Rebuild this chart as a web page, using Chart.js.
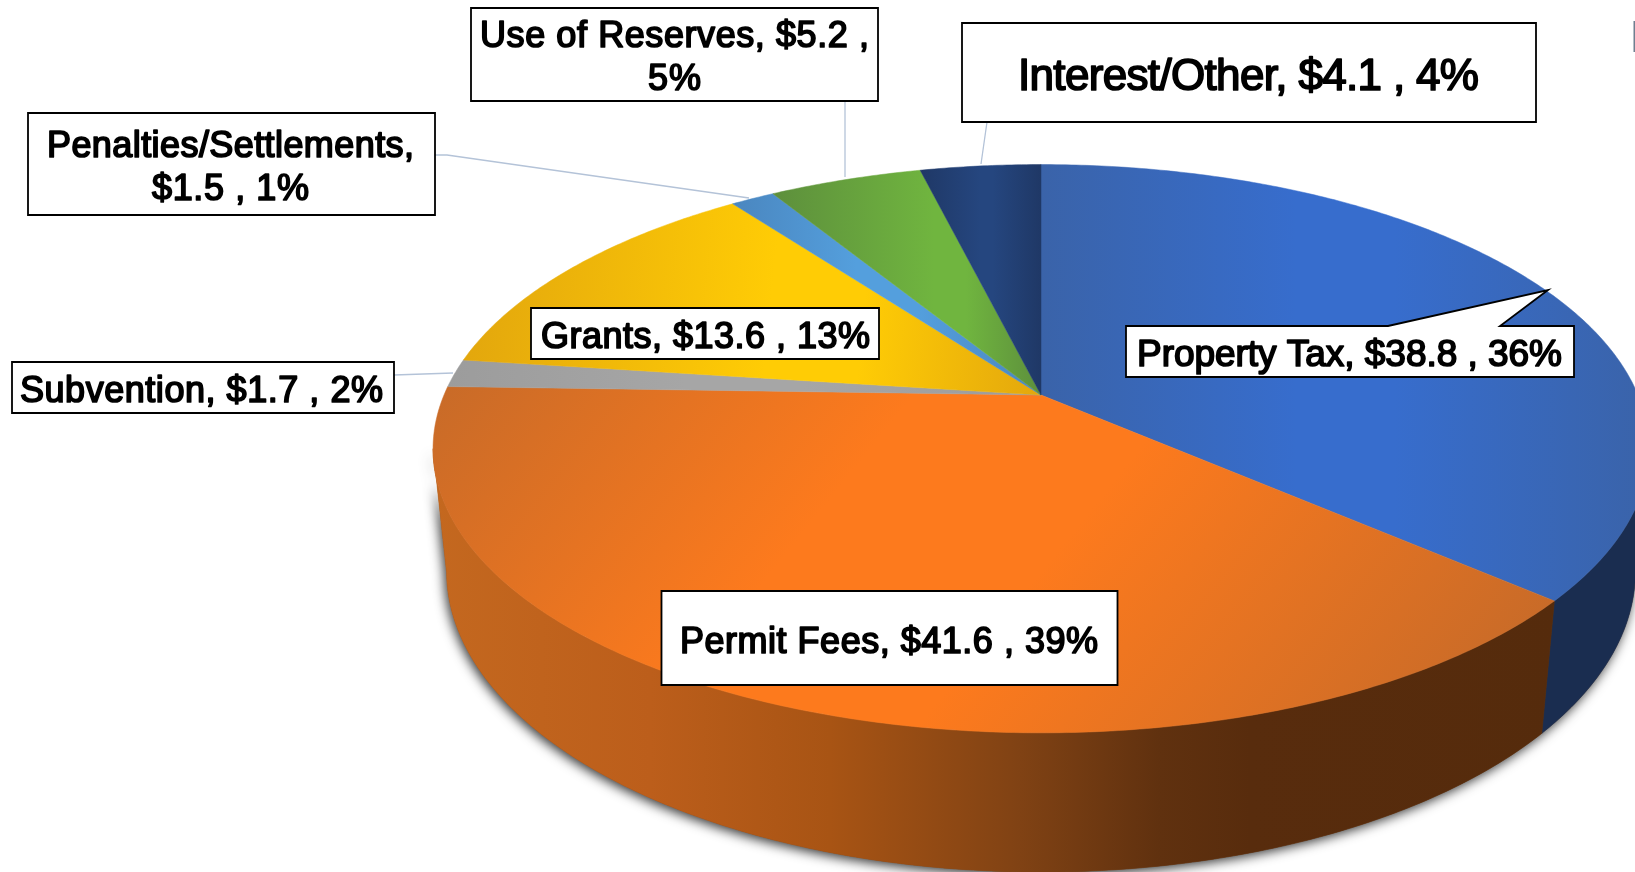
<!DOCTYPE html>
<html>
<head>
<meta charset="utf-8">
<script src="https://cdn.jsdelivr.net/npm/chart.js@4"></script>
<style>
html,body{margin:0;padding:0;background:#fff;overflow:hidden}
canvas{display:block}
</style>
</head>
<body>
<canvas id="c" width="1635" height="872"></canvas>
<script>
// ---- data (clockwise from 12 o'clock)
const categories = ['Property Tax','Permit Fees','Subvention','Grants','Penalties/Settlements','Use of Reserves','Interest/Other'];
const amounts    = [38.8, 41.6, 1.7, 13.6, 1.5, 5.2, 4.1];
const percents   = [36, 39, 2, 13, 1, 5, 4];

// ---- styles
const faceEdge = ['#3a63a9','#c96b28','#9c9c9c','#e3a70d','#4a86bf','#5d8f3c','#1f3866'];
const faceMid  = ['#376dcd','#fd7a1d','#a6a6a6','#ffcc05','#549fdd','#70b53f','#25467f'];
const facePlateau = [[0.42,0.58],[0.37,0.58],[0.4,0.6],[0.52,0.68],[0.4,0.6],[0.6,0.72],[0.5,0.6]];
const faceTilt = [0,0.8,0,0.1,0,0,0];
const wallStops = {
  1:[[433,'#c4681f'],[650,'#bc5e1b'],[830,'#a85414'],[1020,'#804214'],[1160,'#60310f'],[1250,'#582c0d'],[1560,'#552b0c']],
  0:[[1540,'#1a2d50'],[1650,'#1a2d50']]
};

// ---- layout of the boxes, pointers and text
const boxes = [
 {r:[1126,326,448,51], font:37, lines:[[1137,366,425]], wrap:null, callout:[[1388,326],[1548,290],[1500,326]]},
 {r:[661.5,591,456,94], font:36, lines:[[680,653,418]], wrap:null},
 {r:[12,362,382,51], font:36, lines:[[20,402,363]], wrap:null, leader:[[394,375],[453,373]]},
 {r:[531,308,348,51], font:36, lines:[[541,348,329]], wrap:null},
 {r:[28,113,407,102], font:36, lines:[[47,157,367],[152,200,157]], wrap:'val', leader:[[435,155],[447,155],[749,198]]},
 {r:[471,8,407,93], font:36, lines:[[480,47,389],[648,90,53]], wrap:'pct', leader:[[845,101],[845,177]]},
 {r:[962,23,574,99], font:44, lines:[[1018,90,461]], wrap:null, leader:[[987,122],[981,164]]}
];
const proj = {cx:1041, cy:395, A:274, B:597, k:0.189, H:123.4, e:0.022};

function topPt(a){ // a: arc angle from the library's element
  const u=Math.cos(a), v=-Math.sin(a), w=1+proj.k*v;
  return [proj.cx+proj.B*u/w, proj.cy-proj.A*v/w];
}
function lowPt(a){
  const u=Math.cos(a), v=-Math.sin(a), w=1+proj.k*v+proj.e;
  return [proj.cx+proj.B*u/w, proj.cy+(-proj.A*v+proj.H)/w];
}
function arcPts(fn,a0,a1){
  const n=Math.max(2,Math.ceil(Math.abs(a1-a0)/0.01)), p=[];
  for(let i=0;i<=n;i++) p.push(fn(a0+(a1-a0)*i/n));
  return p;
}
function poly(ctx,pts){
  ctx.beginPath();
  pts.forEach((p,i)=> i?ctx.lineTo(p[0],p[1]):ctx.moveTo(p[0],p[1]));
  ctx.closePath();
}
// angles where the silhouette turns (right/left extremes), library angle measure
const silR = Math.asin(proj.k);             // below horizontal, right
const silL = Math.PI-Math.asin(proj.k);     // below horizontal, left

const pie3d = {
  id:'pie3d',
  beforeDatasetDraw(chart){
    const ctx=chart.ctx, arcs=chart.getDatasetMeta(0).data;
    ctx.save();
    // drop shadow of the whole body
    const body=arcPts(topPt,silR,silL).concat(arcPts(lowPt,silL,silR));
    ctx.save();
    ctx.shadowColor='rgba(0,0,0,0.8)'; ctx.shadowBlur=12; ctx.shadowOffsetX=-2; ctx.shadowOffsetY=3;
    ctx.fillStyle='#7a4a20'; poly(ctx,body); ctx.fill();
    ctx.restore();
    // walls
    arcs.forEach((el,i)=>{
      if(!wallStops[i]) return;
      const s=el.getProps(['startAngle','endAngle']);
      const a0=Math.max(s.startAngle,silR), a1=Math.min(s.endAngle,silL);
      if(a1<=a0) return;
      const g=ctx.createLinearGradient(433,0,1635,0);
      wallStops[i].forEach(st=>g.addColorStop(Math.min(1,(st[0]-433)/1202),st[1]));
      ctx.fillStyle=g; ctx.strokeStyle=g; ctx.lineWidth=.6;
      poly(ctx,arcPts(topPt,a0,a1).concat(arcPts(lowPt,a1,a0)));
      ctx.fill(); ctx.stroke();
    });
    // top faces
    arcs.forEach((el,i)=>{
      const s=el.getProps(['startAngle','endAngle']);
      const pts=[[proj.cx,proj.cy]].concat(arcPts(topPt,s.startAngle,s.endAngle));
      const tilt=faceTilt[i], L2=1+tilt*tilt;
      const ts=pts.map(p=>(p[0]+tilt*p[1])/L2);
      const t0=Math.min(...ts), t1=Math.max(...ts);
      const g=ctx.createLinearGradient(t0,t0*tilt,t1,t1*tilt);
      g.addColorStop(0,faceEdge[i]);
      g.addColorStop(facePlateau[i][0],faceMid[i]);
      g.addColorStop(facePlateau[i][1],faceMid[i]);
      g.addColorStop(1,faceEdge[i]);
      ctx.fillStyle=g; ctx.strokeStyle=g; ctx.lineWidth=.5;
      poly(ctx,pts); ctx.fill(); ctx.stroke();
    });
    ctx.restore();
    return false; // the arcs above replace the flat drawing
  },
  afterDraw(chart){
    const ctx=chart.ctx;
    ctx.save();
    // leader lines
    ctx.strokeStyle='#b4c3d8'; ctx.lineWidth=1.3;
    boxes.forEach(b=>{
      if(!b.leader) return;
      ctx.beginPath();
      b.leader.forEach((p,i)=> i?ctx.lineTo(p[0],p[1]):ctx.moveTo(p[0],p[1]));
      ctx.stroke();
    });
    // boxes and text
    boxes.forEach((b,i)=>{
      const [x,y,w,h]=b.r;
      ctx.fillStyle='#fff'; ctx.strokeStyle='#000'; ctx.lineWidth=1.8; ctx.lineJoin='miter';
      ctx.beginPath();
      ctx.moveTo(x,y);
      if(b.callout) b.callout.forEach(p=>ctx.lineTo(p[0],p[1]));
      ctx.lineTo(x+w,y); ctx.lineTo(x+w,y+h); ctx.lineTo(x,y+h); ctx.closePath();
      ctx.fill(); ctx.stroke();
      const cat=categories[i], val='$'+amounts[i].toFixed(1), pct=percents[i]+'%';
      let rows;
      if(b.wrap==='val') rows=[cat+',', val+' , '+pct];
      else if(b.wrap==='pct') rows=[cat+', '+val+' ,', pct];
      else rows=[cat+', '+val+' , '+pct];
      ctx.font=b.font+'px "Liberation Sans", Arial, sans-serif';
      ctx.textAlign='left'; ctx.textBaseline='alphabetic';
      ctx.fillStyle='#000'; ctx.strokeStyle='#000'; ctx.lineWidth=1.7; ctx.lineJoin='round';
      rows.forEach((t,j)=>{
        const [lx,ly,lw]=b.lines[j];
        ctx.letterSpacing='0px';
        const m=ctx.measureText(t).width;
        ctx.letterSpacing=((lw-m)/Math.max(1,t.length-1)).toFixed(3)+'px';
        ctx.fillText(t,lx,ly);
        ctx.strokeText(t,lx,ly);
      });
      ctx.letterSpacing='0px';
    });
    // clipped sliver of the neighbouring object at the right edge
    ctx.fillStyle='#6f7f90';
    ctx.fillRect(1633.5,21,1.5,31);
    ctx.restore();
  }
};

new Chart(document.getElementById('c'),{
  type:'pie',
  data:{labels:categories,datasets:[{data:amounts,backgroundColor:faceMid,borderWidth:0}]},
  options:{
    responsive:false,animation:false,
    rotation:0,circumference:360,
    layout:{padding:0},
    plugins:{legend:{display:false},tooltip:{enabled:false},title:{display:false}}
  },
  plugins:[pie3d]
});
</script>
</body>
</html>
